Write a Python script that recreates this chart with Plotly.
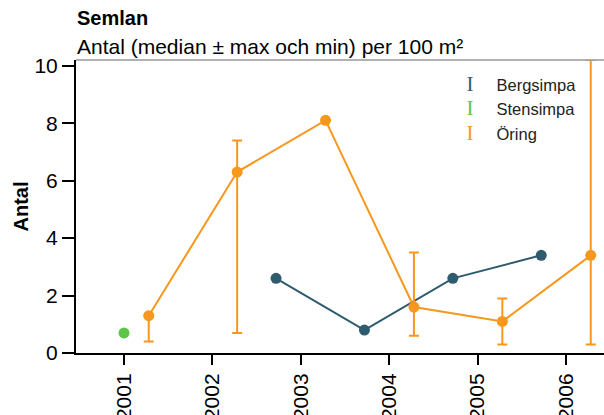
import plotly.graph_objects as go

years = [2001, 2002, 2003, 2004, 2005, 2006]

berg_years = [2003, 2004, 2005, 2006]
berg_med = [2.6, 0.8, 2.6, 3.4]

sten_years = [2001]
sten_med = [0.7]

oring_years = [2001, 2002, 2003, 2004, 2005, 2006]
oring_med = [1.3, 6.3, 8.1, 1.6, 1.1, 3.4]
oring_max = [1.3, 7.4, 8.1, 3.5, 1.9, 10.2]
oring_min = [0.4, 0.7, 8.1, 0.6, 0.3, 0.3]

species = ["Bergsimpa", "Stensimpa", "Öring"]
colors = {"Bergsimpa": "#2f5b6f", "Stensimpa": "#5ec54b", "Öring": "#f7981d"}
offsets = {"Bergsimpa": -0.28, "Stensimpa": 0.0, "Öring": 0.28}

fig = go.Figure()

def add_series(name, xs, ys, ymax=None, ymin=None):
    x = [v + offsets[name] for v in xs]
    err = None
    if ymax is not None:
        err = dict(type="data", symmetric=False,
                   array=[a - m for a, m in zip(ymax, ys)],
                   arrayminus=[m - b for m, b in zip(ys, ymin)],
                   color=colors[name], thickness=2, width=5)
    fig.add_trace(go.Scatter(
        x=x, y=ys, mode="lines+markers", name=name, showlegend=False,
        line=dict(color=colors[name], width=2),
        marker=dict(color=colors[name], size=11),
        error_y=err, cliponaxis=False))

add_series("Bergsimpa", berg_years, berg_med)
add_series("Stensimpa", sten_years, sten_med)
add_series("Öring", oring_years, oring_med, oring_max, oring_min)

for name in species:
    fig.add_trace(go.Scatter(
        x=[None], y=[None], mode="markers",
        name=('<span style="font-family:Liberation Serif;font-size:21px;color:%s">I</span>'
              '<span>&nbsp;&nbsp;&nbsp;&nbsp;&nbsp;%s</span>') % (colors[name], name),
        marker=dict(size=1, color="rgba(0,0,0,0)"), showlegend=True))

fig.update_layout(
    width=604, height=415,
    margin=dict(l=76, r=0, t=60, b=62),
    paper_bgcolor="white", plot_bgcolor="white",
    font=dict(family="Liberation Sans, Arial", color="black"),
    showlegend=True,
    legend=dict(x=0.664, y=0.975, xanchor="left", yanchor="top",
                font=dict(size=16.5, color="#222"), bgcolor="rgba(0,0,0,0)",
                itemwidth=30, tracegroupgap=0),
    xaxis=dict(range=[2000.457, 2006.43], tickvals=years,
               ticktext=[str(y) for y in years], tickangle=-90,
               showgrid=False, zeroline=False, showline=True, automargin=False,
               linecolor="black", linewidth=2, ticks="outside",
               ticklen=10, tickwidth=2, tickcolor="black",
               tickfont=dict(size=21)),
    yaxis=dict(range=[0, 10.2], tickvals=[0, 2, 4, 6, 8, 10],
               showgrid=False, zeroline=False, showline=True, automargin=False,
               linecolor="black", linewidth=2, ticks="outside",
               ticklen=12, tickwidth=2, tickcolor="black",
               tickfont=dict(size=21),
               title=dict(text="<b>Antal</b>", font=dict(size=20), standoff=0)),
    shapes=[dict(type="line", xref="paper", yref="paper", x0=0, x1=1, y0=1, y1=1,
                 line=dict(color="#999999", width=1.5))],
    annotations=[
        dict(text="<b>Semlan</b>", xref="paper", yref="paper", x=0, y=1,
             xanchor="left", yanchor="middle", yshift=42, xshift=-1,
             showarrow=False, font=dict(size=20)),
        dict(text="Antal (median ± max och min) per 100 m²", xref="paper", yref="paper",
             x=0, y=1, xanchor="left", yanchor="middle", yshift=14, xshift=-1,
             showarrow=False, font=dict(size=21)),
    ],
)

fig.write_html("out.html", config={"displayModeBar": False},
               post_script="document.body.style.margin='0px';document.body.style.overflow='hidden';")
